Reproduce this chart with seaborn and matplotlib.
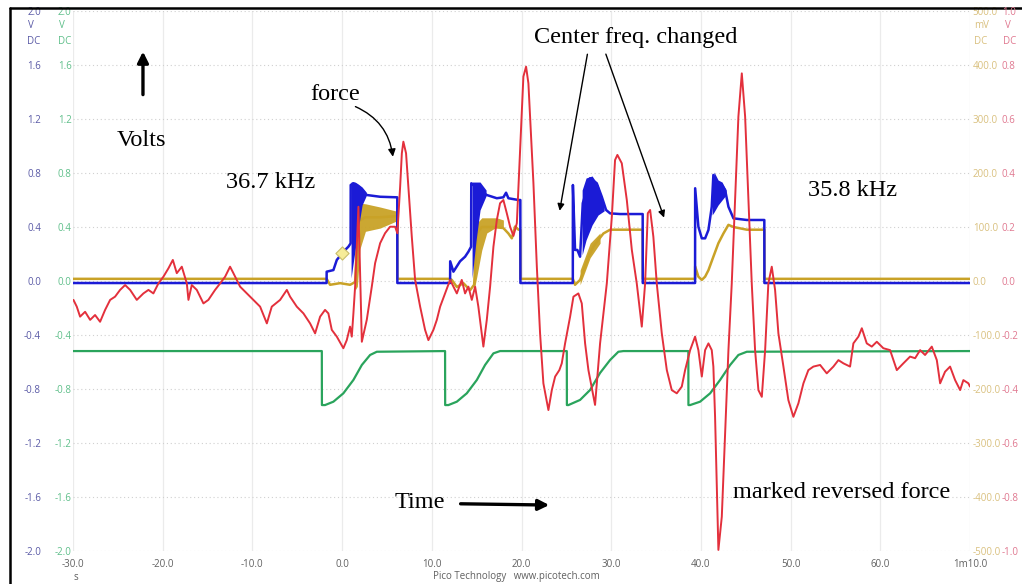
import numpy as np
import pandas as pd
import matplotlib
matplotlib.use("Agg")
import matplotlib.pyplot as plt
from matplotlib.lines import Line2D
import seaborn as sns

# ---------------------------------------------------------------
# Scope capture, time in seconds
# ---------------------------------------------------------------
# Channel A (blue, V): drive voltage
CH_A = [
    (-30.0, -0.015), (-1.73, -0.015), (-1.72, 0.069), (-0.97, 0.081), (-0.59, 0.156),
    (0.14, 0.217), (0.70, 0.254), (0.95, 0.279), (0.96, 0.711), (1.26, 0.724),
    (1.82, 0.699), (2.20, 0.674), (2.75, 0.637), (4.24, 0.624), (6.10, 0.620),
    (6.15, 0.620), (6.16, -0.015),
    (12.04, -0.015), (12.05, 0.146), (12.41, 0.069), (13.15, 0.146), (13.71, 0.180),
    (14.08, 0.217), (14.38, 0.254), (14.40, 0.724), (15.57, 0.661), (16.13, 0.637),
    (17.25, 0.613), (17.98, 0.620), (18.28, 0.654), (18.54, 0.613), (19.65, 0.600),
    (19.87, 0.600), (19.88, -0.015),
    (25.72, -0.015), (25.73, 0.711), (25.97, 0.230), (26.23, 0.230), (26.53, 0.180),
    (26.83, 0.576), (27.65, 0.761), (28.39, 0.724), (28.95, 0.624), (29.43, 0.526),
    (29.88, 0.501), (30.99, 0.496), (33.51, 0.496), (33.52, -0.015),
    (39.35, -0.015), (39.36, 0.687), (39.72, 0.402), (40.10, 0.316), (40.47, 0.316),
    (40.84, 0.378), (41.21, 0.550), (41.39, 0.785), (41.77, 0.674), (42.33, 0.711),
    (42.70, 0.674), (43.07, 0.550), (43.63, 0.464), (45.12, 0.452), (47.07, 0.452),
    (47.08, -0.015), (70.0, -0.015),
]
# Channel A oscillation bursts: (t, low, high)
CH_A_BURSTS = [
    [(1.00, 0.022, 0.733), (1.45, 0.230, 0.733), (1.78, 0.378, 0.719),
     (2.23, 0.563, 0.696), (2.68, 0.630, 0.659)],
    [(14.49, 0.022, 0.733), (14.94, 0.304, 0.733), (15.38, 0.526, 0.733),
     (16.05, 0.630, 0.674)],
    [(26.76, 0.193, 0.674), (27.20, 0.304, 0.763), (27.87, 0.415, 0.778),
     (28.54, 0.489, 0.711), (29.21, 0.519, 0.563)],
    [(41.25, 0.489, 0.674), (41.47, 0.511, 0.807), (41.92, 0.563, 0.748),
     (42.36, 0.600, 0.733), (42.81, 0.637, 0.674)],
]
# Channel B (green, V): trigger / enable
CH_B = [
    (-30.0, -0.519), (-2.26, -0.519), (-2.25, -0.919), (-1.90, -0.919), (-0.97, -0.894),
    (0.14, -0.832), (1.26, -0.733), (2.20, -0.622), (3.12, -0.548), (3.87, -0.524),
    (11.48, -0.519), (11.49, -0.919), (11.85, -0.919), (12.79, -0.894), (13.90, -0.832),
    (15.02, -0.733), (15.94, -0.622), (16.87, -0.536), (17.61, -0.519),
    (25.05, -0.519), (25.06, -0.919), (25.23, -0.919), (26.53, -0.881), (27.65, -0.807),
    (28.76, -0.681), (29.88, -0.585), (30.80, -0.524), (31.36, -0.519),
    (38.60, -0.519), (38.61, -0.919), (38.80, -0.919), (39.91, -0.894), (41.03, -0.832),
    (42.14, -0.733), (43.26, -0.622), (44.18, -0.548), (45.12, -0.524), (70.0, -0.519),
]
# Channel C (gold, mV): transducer current
CH_C = [
    (-30.0, 4), (-1.72, 4), (-1.34, -7), (-0.22, -4), (0.89, -7), (1.45, -2),
    (1.78, 110), (2.56, 118), (4.24, 118), (5.91, 120), (6.15, 120), (6.16, 4),
    (12.04, 4), (12.23, 2), (12.79, -11), (13.52, -4), (14.27, -17), (14.72, -7),
    (15.02, 88), (15.57, 100), (16.87, 100), (17.98, 98), (18.54, 88), (18.92, 79),
    (19.29, 101), (19.66, 95), (19.87, 95), (19.88, 4),
    (25.72, 4), (25.97, -7), (26.53, 2), (27.09, 27), (27.46, 45), (28.02, 64),
    (28.57, 76), (29.13, 88), (29.88, 95), (30.99, 95), (33.51, 95), (33.52, 4),
    (39.35, 4), (39.36, 27), (39.72, 8), (40.10, 2), (40.47, 8), (40.84, 20),
    (41.39, 45), (41.95, 70), (42.51, 88), (43.07, 104), (43.63, 100), (45.12, 95),
    (47.07, 95), (47.08, 4), (70.0, 4),
]
CH_C_BURSTS = [
    [(1.45, -17, 60), (1.70, -10, 141), (2.00, 60, 144), (2.60, 92, 143),
     (4.24, 98, 137), (5.91, 110, 130), (6.15, 112, 130)],
    [(14.72, -17, 94), (15.02, 8, 107), (15.57, 57, 117), (16.13, 89, 117),
     (17.25, 100, 117), (17.98, 100, 113)],
    [(26.53, -7, 20), (27.65, 43, 70), (28.76, 70, 89)],
]
# Channel D (red, V): force sensor
CH_D = [
    (-29.95, -0.070), (-29.58, -0.095), (-29.21, -0.132), (-28.65, -0.114), (-28.09, -0.144),
    (-27.54, -0.126), (-26.98, -0.151), (-26.42, -0.107), (-25.86, -0.070), (-25.31, -0.058),
    (-24.75, -0.033), (-24.19, -0.015), (-23.63, -0.033), (-22.89, -0.070), (-22.15, -0.046),
    (-21.59, -0.033), (-21.04, -0.046), (-20.48, -0.009), (-19.92, 0.016), (-19.36, 0.047),
    (-18.87, 0.078), (-18.43, 0.029), (-17.87, 0.053), (-17.31, -0.009), (-17.13, -0.070),
    (-16.76, -0.015), (-16.20, -0.033), (-15.46, -0.083), (-14.91, -0.070), (-14.16, -0.033),
    (-13.60, -0.009), (-13.04, 0.016), (-12.49, 0.053), (-12.12, 0.029), (-11.37, -0.021),
    (-10.62, -0.046), (-9.89, -0.070), (-9.14, -0.095), (-8.39, -0.157), (-7.84, -0.095),
    (-6.91, -0.070), (-6.16, -0.033), (-5.80, -0.058), (-5.05, -0.095), (-4.31, -0.120),
    (-3.57, -0.157), (-3.01, -0.194), (-2.45, -0.132), (-1.90, -0.107), (-1.53, -0.120),
    (-1.15, -0.181), (-0.59, -0.206), (0.14, -0.249), (0.52, -0.219), (0.89, -0.169),
    (1.08, -0.206), (1.26, -0.120), (1.45, -0.021), (1.82, 0.275), (2.20, -0.225),
    (2.75, -0.144), (3.31, -0.021), (3.68, 0.066), (4.24, 0.140), (4.79, 0.177),
    (5.35, 0.201), (5.91, 0.201), (6.16, 0.177), (6.47, 0.349), (6.66, 0.473),
    (6.83, 0.516), (7.13, 0.473), (7.39, 0.349), (7.77, 0.164), (8.14, 0.004),
    (8.70, -0.095), (9.25, -0.181), (9.62, -0.219), (10.18, -0.181), (10.56, -0.144),
    (10.93, -0.095), (11.48, -0.046), (12.04, 0.004), (12.41, -0.021), (12.79, -0.046),
    (13.34, 0.004), (13.71, -0.046), (14.08, -0.021), (14.46, -0.070), (14.83, -0.021),
    (15.19, -0.095), (15.75, -0.243), (16.13, -0.144), (16.50, -0.021), (16.87, 0.127),
    (17.25, 0.226), (17.61, 0.288), (17.98, 0.300), (18.36, 0.251), (18.73, 0.201),
    (19.10, 0.167), (19.48, 0.214), (19.84, 0.485), (20.21, 0.757), (20.51, 0.794),
    (20.77, 0.732), (20.96, 0.609), (21.33, 0.362), (21.71, 0.053), (22.07, -0.194),
    (22.44, -0.379), (23.00, -0.478), (23.38, -0.404), (23.75, -0.354), (24.22, -0.330),
    (24.49, -0.305), (24.86, -0.231), (25.42, -0.132), (25.79, -0.058), (26.34, -0.046),
    (26.72, -0.083), (27.09, -0.231), (27.46, -0.330), (28.20, -0.459), (28.76, -0.231),
    (29.51, -0.009), (30.07, 0.238), (30.43, 0.448), (30.69, 0.467), (31.18, 0.436),
    (31.74, 0.300), (32.30, 0.115), (32.85, -0.009), (33.41, -0.169), (33.78, -0.009),
    (34.08, 0.251), (34.34, 0.263), (34.70, 0.164), (35.08, -0.009), (35.64, -0.194),
    (36.20, -0.330), (36.75, -0.404), (37.31, -0.416), (37.87, -0.391), (38.24, -0.330),
    (38.80, -0.256), (39.35, -0.206), (39.72, -0.256), (40.10, -0.354), (40.47, -0.256),
    (40.84, -0.231), (41.21, -0.256), (41.39, -0.317), (41.58, -0.503), (41.77, -0.749),
    (41.95, -0.996), (42.33, -0.873), (42.70, -0.564), (43.07, -0.256), (43.44, -0.009),
    (43.81, 0.300), (44.18, 0.609), (44.56, 0.769), (44.93, 0.609), (45.30, 0.300),
    (45.67, -0.009), (46.04, -0.256), (46.41, -0.404), (46.79, -0.429), (47.16, -0.256),
    (47.52, -0.009), (47.90, 0.053), (48.27, -0.033), (48.64, -0.194), (49.20, -0.317),
    (49.75, -0.441), (50.31, -0.503), (50.87, -0.453), (51.43, -0.379), (51.98, -0.330),
    (52.54, -0.317), (53.29, -0.311), (54.03, -0.342), (54.77, -0.317), (55.33, -0.293),
    (55.89, -0.305), (56.63, -0.317), (57.00, -0.231), (57.56, -0.206), (57.94, -0.175),
    (58.49, -0.231), (59.05, -0.243), (59.61, -0.225), (60.34, -0.249), (61.09, -0.256),
    (61.84, -0.330), (62.57, -0.305), (63.32, -0.280), (63.88, -0.286), (64.44, -0.256),
    (64.99, -0.274), (65.74, -0.243), (66.30, -0.293), (66.67, -0.379), (67.22, -0.336),
    (67.78, -0.317), (68.34, -0.367), (68.90, -0.404), (69.26, -0.367), (69.82, -0.379),
    (70.0, -0.391),
]
# cursor marker on channel A
MARKER_T, MARKER_V = -0.03, 0.205

X_TICKS = [-30, -20, -10, 0, 10, 20, 30, 40, 50, 60, 70]
X_LABELS = ["-30.0", "-20.0", "-10.0", "0.0", "10.0", "20.0", "30.0", "40.0",
            "50.0", "60.0", "1m10.0"]
V_TICKS = [-2.0, -1.6, -1.2, -0.8, -0.4, 0.0, 0.4, 0.8, 1.2, 1.6, 2.0]
MV_TICKS = [-500, -400, -300, -200, -100, 0, 100, 200, 300, 400, 500]
F_TICKS = [-1.0, -0.8, -0.6, -0.4, -0.2, 0.0, 0.2, 0.4, 0.6, 0.8, 1.0]

# colours
BLUE, GREEN, GOLD, RED = "#1b1bd6", "#2aa45c", "#c9a227", "#e3303c"
BLUE_LBL, GREEN_LBL, GOLD_LBL, RED_LBL = "#5a5aa6", "#5fbf8a", "#d9c07e", "#e07890"
TICK_GRAY = "#606060"

sns.set_style("white")
plt.rcParams["font.family"] = ["Open Sans", "DejaVu Sans"]
plt.rcParams["axes.unicode_minus"] = False

W_PX, H_PX = 1022, 584
fig = plt.figure(figsize=(W_PX / 100, H_PX / 100), dpi=100)
fig.patch.set_facecolor("white")

x0, x1, y0, y1 = 73, 970, 11, 551
ax = fig.add_axes([x0 / W_PX, 1 - y1 / H_PX, (x1 - x0) / W_PX, (y1 - y0) / H_PX])
axc = ax.twinx()
axd = ax.twinx()
axc.set_zorder(1)
ax.set_zorder(2)
axd.set_zorder(3)
ax.patch.set_visible(False)
axd.patch.set_visible(False)

for a in (ax, axc, axd):
    for s in a.spines.values():
        s.set_visible(False)

ax.set_xlim(-30, 70)
ax.set_ylim(-2.0, 2.0)
axc.set_ylim(-500, 500)
axd.set_ylim(-1.0, 1.0)


def frame(pairs):
    return pd.DataFrame(pairs, columns=["t", "v"])


# grid on the bottom axes
axc.xaxis.set_visible(True)
axc.grid(axis="y", color="#d0d0d0", lw=0.8, ls=(0, (1, 2.5)))
axc.grid(axis="x", color="#ebebeb", lw=0.9)

# gold channel (mV)
for burst in CH_C_BURSTS:
    b = np.array(burst, dtype=float)
    axc.fill_between(b[:, 0], b[:, 1], b[:, 2], color=GOLD, lw=0, alpha=0.95)
sns.lineplot(data=frame(CH_C), x="t", y="v", ax=axc, sort=False, estimator=None,
             color=GOLD, lw=1.8)

# green and blue channels (V)
sns.lineplot(data=frame(CH_B), x="t", y="v", ax=ax, sort=False, estimator=None,
             color=GREEN, lw=1.6)
for burst in CH_A_BURSTS:
    b = np.array(burst, dtype=float)
    ax.fill_between(b[:, 0], b[:, 1], b[:, 2], color=BLUE, lw=0)
sns.lineplot(data=frame(CH_A), x="t", y="v", ax=ax, sort=False, estimator=None,
             color=BLUE, lw=1.8)
ax.scatter([MARKER_T], [MARKER_V], marker="D", s=45, color="#f6ec98",
           edgecolor="#c9bd6a", lw=0.8, zorder=5)

# red force channel
sns.lineplot(data=frame(CH_D), x="t", y="v", ax=axd, sort=False, estimator=None,
             color=RED, lw=1.4)

# ticks and labels
for a in (ax, axc, axd):
    a.set_xlabel("")
    a.set_ylabel("")

ax.set_xticks(X_TICKS)
ax.set_xticklabels(X_LABELS)
ax.tick_params(axis="x", length=0, pad=6, labelsize=7, labelcolor=TICK_GRAY)
axc.tick_params(axis="x", length=0, labelbottom=False)

ax.set_yticks(V_TICKS)
ax.set_yticklabels([f"{v:.1f}" for v in V_TICKS])
ax.tick_params(axis="y", length=0, pad=1, labelsize=7, labelcolor=GREEN_LBL)

sec = ax.secondary_yaxis("left")
sec.set_yticks(V_TICKS)
sec.set_yticklabels([f"{v:.1f}" for v in V_TICKS])
sec.tick_params(axis="y", length=0, pad=23, labelsize=7, labelcolor=BLUE_LBL)
for s in sec.spines.values():
    s.set_visible(False)

axc.set_yticks(MV_TICKS)
axc.set_yticklabels([f"{v:.1f}" for v in MV_TICKS])
axc.tick_params(axis="y", length=0, pad=2, labelsize=7, labelcolor=GOLD_LBL)

axd.set_yticks(F_TICKS)
axd.set_yticklabels([f"{v:.1f}" for v in F_TICKS])
axd.tick_params(axis="y", length=0, pad=23, labelsize=7, labelcolor=RED_LBL)


# unit captions under the top tick labels
def fig_txt(x, y, s, color, **kw):
    fig.text(x / W_PX, 1 - y / H_PX, s, color=color, fontsize=7, va="center", **kw)


fig_txt(28, 26, "V", BLUE_LBL)
fig_txt(27, 41, "DC", BLUE_LBL)
fig_txt(59, 26, "V", GREEN_LBL)
fig_txt(58, 41, "DC", GREEN_LBL)
fig_txt(974, 26, "mV", GOLD_LBL)
fig_txt(974, 41, "DC", GOLD_LBL)
fig_txt(1005, 26, "V", RED_LBL)
fig_txt(1003, 41, "DC", RED_LBL)
fig_txt(76, 577, "s", TICK_GRAY, ha="center")
fig_txt(516, 577, "Pico Technology   www.picotech.com", TICK_GRAY, ha="center")

# annotations
serif = dict(family=["Liberation Serif", "DejaVu Serif"], fontsize=17.5, color="black")
ax.text(-22.4, 1.044, "Volts", ha="center", va="center", **serif)
ax.annotate("", xy=(-22.2, 1.72), xytext=(-22.2, 1.36),
            arrowprops=dict(arrowstyle="-|>", color="black", lw=2.4, mutation_scale=16))
ax.text(-0.8, 1.378, "force", ha="center", va="center", **serif)
ax.annotate("", xy=(5.7, 0.90), xytext=(1.2, 1.30),
            arrowprops=dict(arrowstyle="-|>", color="black", lw=1.0, mutation_scale=11,
                            connectionstyle="arc3,rad=-0.3"))
ax.text(-8.0, 0.726, "36.7 kHz", ha="center", va="center", **serif)
ax.text(32.7, 1.807, "Center freq. changed", ha="center", va="center", **serif)
ax.annotate("", xy=(24.2, 0.50), xytext=(27.4, 1.70),
            arrowprops=dict(arrowstyle="-|>", color="black", lw=1.0, mutation_scale=10))
ax.annotate("", xy=(36.0, 0.45), xytext=(29.3, 1.70),
            arrowprops=dict(arrowstyle="-|>", color="black", lw=1.0, mutation_scale=10))
ax.text(56.9, 0.674, "35.8 kHz", ha="center", va="center", **serif)
ax.text(8.7, -1.644, "Time", ha="center", va="center", **serif)
ax.annotate("", xy=(23.4, -1.66), xytext=(12.9, -1.65),
            arrowprops=dict(arrowstyle="-|>", color="black", lw=2.4, mutation_scale=16))
ax.text(55.7, -1.563, "marked reversed force", ha="center", va="center", **serif)

# outer frame of the capture (left and top edges fall inside the image)
fx, fy = 10 / W_PX, 1 - 8 / H_PX
fig.lines.append(Line2D([fx, fx], [0, fy], transform=fig.transFigure, color="black", lw=1.8))
fig.lines.append(Line2D([fx, 1], [fy, fy], transform=fig.transFigure, color="black", lw=1.8))

fig.savefig("out.png", dpi=100, facecolor="white")
